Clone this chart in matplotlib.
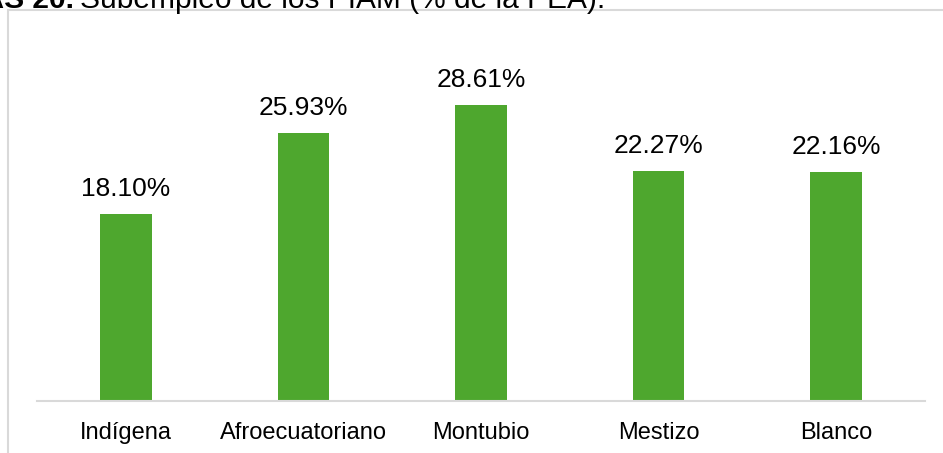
import matplotlib
matplotlib.use("Agg")
import matplotlib.pyplot as plt
from matplotlib.patches import Rectangle

categories = ["Indígena", "Afroecuatoriano", "Montubio", "Mestizo", "Blanco"]
values = [18.10, 25.93, 28.61, 22.27, 22.16]
labels = ["18.10%", "25.93%", "28.61%", "22.27%", "22.16%"]

W, H = 943, 453
fig = plt.figure(figsize=(W/100, H/100), dpi=100)
plt.rcParams['font.family'] = ['Liberation Sans', 'DejaVu Sans']

# outer frame (light grey)
fig.patches.append(Rectangle((8/W, -0.1), 1.2, (H-10)/H + 0.1, transform=fig.transFigure,
                             fill=False, edgecolor='#d9d9d9', linewidth=1.5))

# cropped title at top
fig.text(74/W, 1 - 8/H, "GRÁFICAS 20.", ha='right', va='baseline', fontsize=21.5,
         fontweight='bold', color='black')
fig.text(80/W, 1 - 8/H, "Subempleo de los PIAM (% de la PEA).", ha='left', va='baseline',
         fontsize=21.5, color='black')

ax = fig.add_axes([37/W, (H-401)/H, (925-37)/W, (401-39)/H])
x = list(range(len(categories)))
bars = ax.bar(x, values, width=0.29, color='#4ea72e')
for xi, v, lab in zip(x, values, labels):
    ax.text(xi, v + 1.25, lab, ha='center', va='bottom', fontsize=19, color='black')

ax.set_xlim(-0.5, 4.5)
ax.set_ylim(0, 35)
ax.set_xticks(x)
ax.set_xticklabels(categories, fontsize=17, color='black')
ax.tick_params(axis='x', length=0, pad=15)
ax.set_yticks([])
for s in ['top', 'left', 'right']:
    ax.spines[s].set_visible(False)
ax.spines['bottom'].set_color('#d9d9d9')
ax.spines['bottom'].set_linewidth(1.5)

fig.savefig("out.png", dpi=100)
